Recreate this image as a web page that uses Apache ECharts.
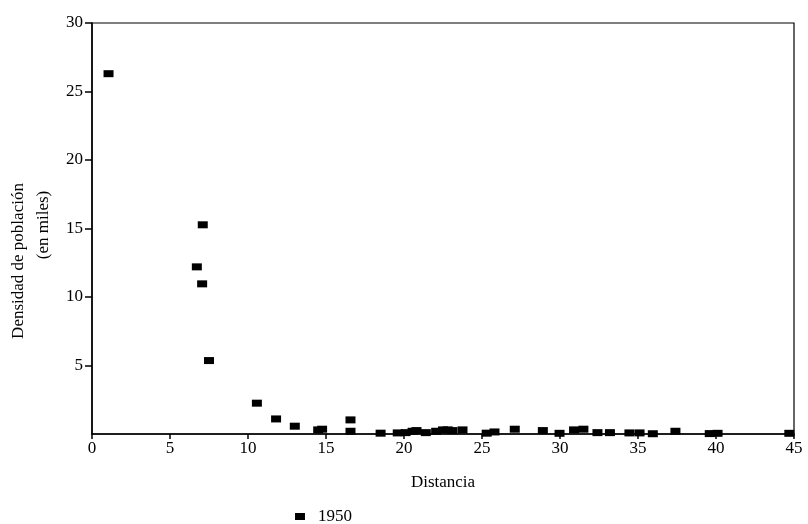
<!DOCTYPE html>
<html>
<head>
<meta charset="utf-8">
<script src="https://cdn.jsdelivr.net/npm/echarts@6/dist/echarts.min.js"></script>
<style>html,body{margin:0;padding:0;background:#fff}#c{width:808px;height:524px}</style>
</head>
<body>
<div id="c"></div>
<script>
const seriesName = '1950';
const distancia = [1.06, 7.1, 6.72, 7.06, 7.5, 10.57, 11.8, 13.0, 14.5, 14.75, 16.57, 16.57, 18.5, 19.6, 20.1, 20.55, 20.8, 21.4, 22.06, 22.5, 22.8, 23.1, 23.75, 25.3, 25.8, 27.1, 28.9, 29.97, 30.9, 31.5, 32.4, 33.2, 34.45, 35.1, 35.95, 37.4, 39.6, 40.1, 44.7];
const densidad = [26.3, 15.27, 12.2, 10.96, 5.36, 2.25, 1.1, 0.57, 0.3, 0.35, 1.03, 0.2, 0.06, 0.08, 0.1, 0.2, 0.25, 0.1, 0.2, 0.3, 0.3, 0.25, 0.3, 0.06, 0.15, 0.35, 0.25, 0.05, 0.3, 0.35, 0.1, 0.1, 0.08, 0.08, 0.02, 0.2, 0.03, 0.05, 0.05];
const xTicks = [0, 5, 10, 15, 20, 25, 30, 35, 40, 45];
const yTicks = [0, 5, 10, 15, 20, 25, 30];
const xTitle = 'Distancia';
const yTitle1 = 'Densidad de población';
const yTitle2 = '(en miles)';

const font = 'Liberation Serif, DejaVu Serif, serif';
const ink = '#000';
const chart = echarts.init(document.getElementById('c'));
chart.setOption({
  animation: false,
  backgroundColor: '#fff',
  textStyle: { fontFamily: font, color: ink },
  grid: { left: 92, right: 14, top: 23, bottom: 90, show: true, borderColor: ink, borderWidth: 1.2 },
  xAxis: {
    type: 'value', min: xTicks[0], max: xTicks[xTicks.length - 1], interval: 5,
    name: xTitle, nameLocation: 'middle', nameGap: 40,
    nameTextStyle: { fontFamily: font, fontSize: 17, color: ink },
    axisLine: { show: true, onZero: false, lineStyle: { color: ink, width: 1.5 } },
    axisTick: { show: true, length: 5, lineStyle: { color: ink, width: 1.5 } },
    axisLabel: { fontFamily: font, fontSize: 17, color: ink, margin: 6 },
    splitLine: { show: false }
  },
  yAxis: {
    type: 'value', min: yTicks[0], max: yTicks[yTicks.length - 1], interval: 5,
    axisLine: { show: true, onZero: false, lineStyle: { color: ink, width: 1.5 } },
    axisTick: { show: true, length: 7, lineStyle: { color: ink, width: 1.5 } },
    axisLabel: { fontFamily: font, fontSize: 17, color: ink, margin: 9, showMinLabel: false },
    splitLine: { show: false }
  },
  legend: {
    show: true, left: 290, top: 503, itemWidth: 10, itemHeight: 7, itemGap: 10,
    icon: 'rect',
    textStyle: { fontFamily: font, fontSize: 17, color: ink, padding: [0, 0, 0, 8] },
    data: [seriesName]
  },
  graphic: [
    { type: 'text', x: 19, y: 261, rotation: Math.PI / 2,
      style: { text: yTitle1, font: '17px ' + font, fill: ink, align: 'center', verticalAlign: 'middle' } },
    { type: 'text', x: 44, y: 225, rotation: Math.PI / 2,
      style: { text: yTitle2, font: '17px ' + font, fill: ink, align: 'center', verticalAlign: 'middle' } }
  ],
  series: [{
    name: seriesName, type: 'scatter', symbol: 'rect', symbolSize: [10, 7],
    itemStyle: { color: ink, opacity: 1 },
    data: distancia.map((d, i) => [d, densidad[i]])
  }]
});
</script>
</body>
</html>
